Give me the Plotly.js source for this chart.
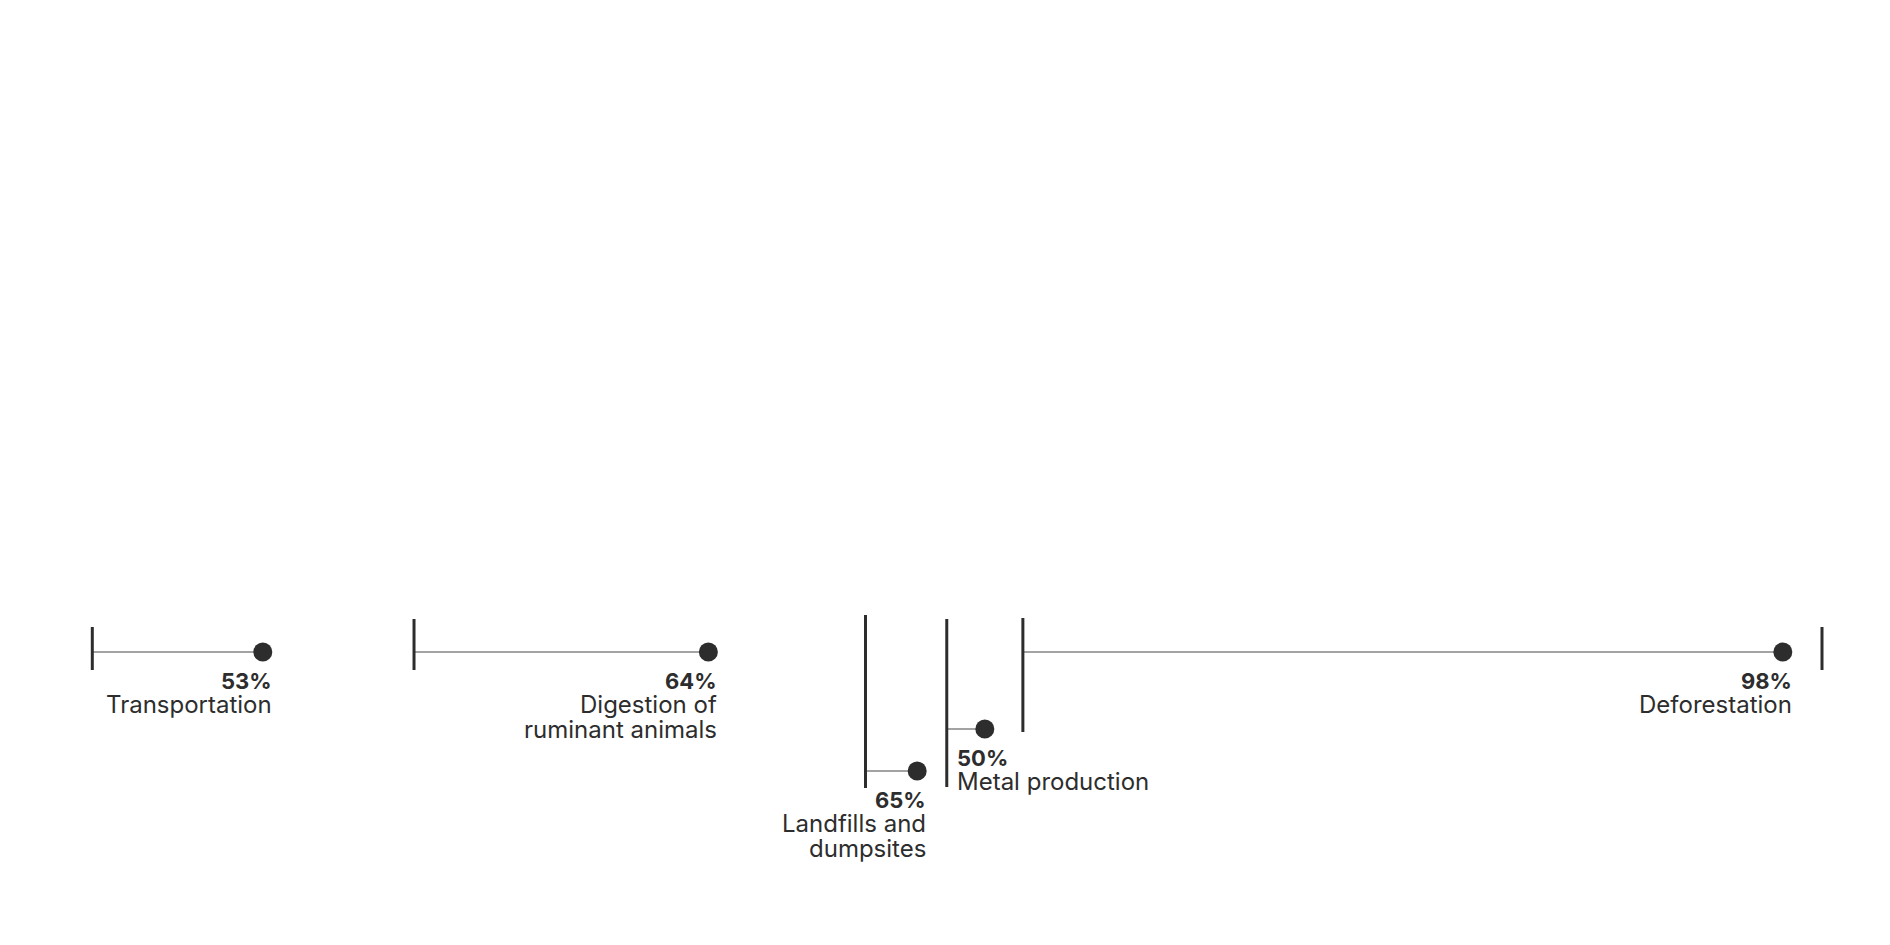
<!DOCTYPE html>
<html><head><meta charset="utf-8">
<script src="https://cdn.plot.ly/plotly-3.0.1.min.js"></script>
<style>html,body{margin:0;padding:0;background:#fff}#chart{width:1890px;height:945px}</style>
</head><body><div id="chart"></div>
<script>
// ---- data ----
const categories = ["Transportation", "Digestion of<br>ruminant animals", "Landfills and<br>dumpsites", "Metal production", "Deforestation"];
const percentValues = [53, 64, 65, 50, 98];
const segmentShare = [18.6, 26.1, 4.7, 4.4, 46.2];
const markerFraction = [0.53, 0.652, 0.636, 0.50, 0.951];

// ---- layout helpers (placement only) ----
const rowOffset = [0, 0, -119, -77, 0];
const labelAlign = ["right", "right", "right", "left", "right"];
const tickTop = [25, 33, 37, 33, 34, 25];
const tickBottom = [-18, -18, -136, -135, -80, -18];

const starts = [];
let acc = 0;
for (const w of segmentShare) { starts.push(acc); acc += w; }
const boundaries = starts.concat([acc]);
const dotX = starts.map((s, i) => s + markerFraction[i] * segmentShare[i]);

const tickX = [], tickY = [];
boundaries.forEach((b, i) => { tickX.push(b, b, null); tickY.push(tickTop[i], tickBottom[i], null); });
const connX = [], connY = [];
starts.forEach((s, i) => { connX.push(s, dotX[i], null); connY.push(rowOffset[i], rowOffset[i], null); });

const ink = "#2d2d2d";
const traces = [
  {type: "scatter", mode: "lines", x: connX, y: connY, line: {color: "#a3a3a3", width: 2}, hoverinfo: "skip", cliponaxis: false},
  {type: "scatter", mode: "lines", x: tickX, y: tickY, line: {color: ink, width: 3}, hoverinfo: "skip", cliponaxis: false},
  {type: "scatter", mode: "markers", x: dotX, y: rowOffset, marker: {color: ink, size: 19, line: {width: 0}}, hoverinfo: "skip", cliponaxis: false}
];

const fontFam = "Inter, 'Noto Sans', sans-serif";
const annotations = [];
categories.forEach((cat, i) => {
  const left = labelAlign[i] === "left";
  const ax = left ? starts[i] : dotX[i];
  const xa = left ? "left" : "right";
  const xs = left ? 8 : 11;
  annotations.push({x: ax, y: rowOffset[i], xref: "x", yref: "y", text: percentValues[i] + "%", showarrow: false,
    xanchor: xa, yanchor: "middle", xshift: xs, yshift: -29,
    font: {family: fontFam, size: 22, weight: 700, color: ink}});
  cat.split("<br>").forEach((line, k) => {
    annotations.push({x: ax, y: rowOffset[i], xref: "x", yref: "y", text: line, showarrow: false,
      xanchor: xa, yanchor: "middle", xshift: xs, yshift: -(52 + 25 * k),
      font: {family: fontFam, size: 24, weight: 400, color: ink}});
  });
});

const pxPerUnit = (1822 - 92.3) / 100;
const layout = {
  width: 1890, height: 945,
  margin: {l: 0, r: 0, t: 0, b: 0, pad: 0},
  paper_bgcolor: "#ffffff", plot_bgcolor: "#ffffff",
  showlegend: false,
  xaxis: {range: [-92.3 / pxPerUnit, 100 + (1890 - 1822) / pxPerUnit], visible: false, fixedrange: true},
  yaxis: {range: [-(945 - 652), 652], visible: false, fixedrange: true},
  annotations: annotations
};
Plotly.newPlot("chart", traces, layout, {displayModeBar: false, staticPlot: true});
</script>
</body></html>
